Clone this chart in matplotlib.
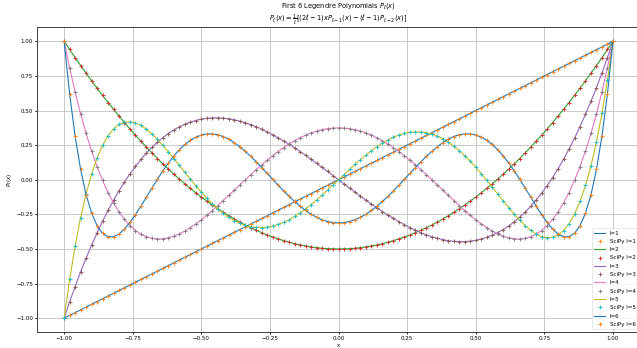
import matplotlib
matplotlib.use("Agg")
import matplotlib.pyplot as plt

# sample points on [-1, 1], step 0.02
x = [-1.00, -0.98, -0.96, -0.94, -0.92, -0.90, -0.88, -0.86, -0.84, -0.82,
     -0.80, -0.78, -0.76, -0.74, -0.72, -0.70, -0.68, -0.66, -0.64, -0.62,
     -0.60, -0.58, -0.56, -0.54, -0.52, -0.50, -0.48, -0.46, -0.44, -0.42,
     -0.40, -0.38, -0.36, -0.34, -0.32, -0.30, -0.28, -0.26, -0.24, -0.22,
     -0.20, -0.18, -0.16, -0.14, -0.12, -0.10, -0.08, -0.06, -0.04, -0.02,
     0.00, 0.02, 0.04, 0.06, 0.08, 0.10, 0.12, 0.14, 0.16, 0.18,
     0.20, 0.22, 0.24, 0.26, 0.28, 0.30, 0.32, 0.34, 0.36, 0.38,
     0.40, 0.42, 0.44, 0.46, 0.48, 0.50, 0.52, 0.54, 0.56, 0.58,
     0.60, 0.62, 0.64, 0.66, 0.68, 0.70, 0.72, 0.74, 0.76, 0.78,
     0.80, 0.82, 0.84, 0.86, 0.88, 0.90, 0.92, 0.94, 0.96, 0.98, 1.00]

p1 = [-1.00, -0.98, -0.96, -0.94, -0.92, -0.90, -0.88, -0.86, -0.84, -0.82,
      -0.80, -0.78, -0.76, -0.74, -0.72, -0.70, -0.68, -0.66, -0.64, -0.62,
      -0.60, -0.58, -0.56, -0.54, -0.52, -0.50, -0.48, -0.46, -0.44, -0.42,
      -0.40, -0.38, -0.36, -0.34, -0.32, -0.30, -0.28, -0.26, -0.24, -0.22,
      -0.20, -0.18, -0.16, -0.14, -0.12, -0.10, -0.08, -0.06, -0.04, -0.02,
      0.00, 0.02, 0.04, 0.06, 0.08, 0.10, 0.12, 0.14, 0.16, 0.18,
      0.20, 0.22, 0.24, 0.26, 0.28, 0.30, 0.32, 0.34, 0.36, 0.38,
      0.40, 0.42, 0.44, 0.46, 0.48, 0.50, 0.52, 0.54, 0.56, 0.58,
      0.60, 0.62, 0.64, 0.66, 0.68, 0.70, 0.72, 0.74, 0.76, 0.78,
      0.80, 0.82, 0.84, 0.86, 0.88, 0.90, 0.92, 0.94, 0.96, 0.98, 1.00]

p2 = [1.000, 0.941, 0.882, 0.825, 0.770, 0.715, 0.662, 0.609, 0.558, 0.509,
      0.460, 0.413, 0.366, 0.321, 0.278, 0.235, 0.194, 0.153, 0.114, 0.077,
      0.040, 0.005, -0.030, -0.063, -0.094, -0.125, -0.154, -0.183, -0.210, -0.235,
      -0.260, -0.283, -0.306, -0.327, -0.346, -0.365, -0.382, -0.399, -0.414, -0.427,
      -0.440, -0.451, -0.462, -0.471, -0.478, -0.485, -0.490, -0.495, -0.498, -0.499,
      -0.500, -0.499, -0.498, -0.495, -0.490, -0.485, -0.478, -0.471, -0.462, -0.451,
      -0.440, -0.427, -0.414, -0.399, -0.382, -0.365, -0.346, -0.327, -0.306, -0.283,
      -0.260, -0.235, -0.210, -0.183, -0.154, -0.125, -0.094, -0.063, -0.030, 0.005,
      0.040, 0.077, 0.114, 0.153, 0.194, 0.235, 0.278, 0.321, 0.366, 0.413,
      0.460, 0.509, 0.558, 0.609, 0.662, 0.715, 0.770, 0.825, 0.882, 0.941, 1.000]

p3 = [-1.000, -0.883, -0.772, -0.666, -0.567, -0.473, -0.384, -0.300, -0.222, -0.148,
      -0.080, -0.016, 0.043, 0.097, 0.147, 0.193, 0.234, 0.271, 0.305, 0.334,
      0.360, 0.382, 0.401, 0.416, 0.428, 0.438, 0.444, 0.447, 0.447, 0.445,
      0.440, 0.433, 0.423, 0.412, 0.398, 0.383, 0.365, 0.346, 0.325, 0.303,
      0.280, 0.255, 0.230, 0.203, 0.176, 0.148, 0.119, 0.089, 0.060, 0.030,
      0.000, -0.030, -0.060, -0.089, -0.119, -0.148, -0.176, -0.203, -0.230, -0.255,
      -0.280, -0.303, -0.325, -0.346, -0.365, -0.383, -0.398, -0.412, -0.423, -0.433,
      -0.440, -0.445, -0.447, -0.447, -0.444, -0.438, -0.428, -0.416, -0.401, -0.382,
      -0.360, -0.334, -0.305, -0.271, -0.234, -0.193, -0.147, -0.097, -0.043, 0.016,
      0.080, 0.148, 0.222, 0.300, 0.384, 0.473, 0.567, 0.666, 0.772, 0.883, 1.000]

p4 = [1.000, 0.809, 0.635, 0.477, 0.335, 0.208, 0.095, -0.005, -0.093, -0.168,
      -0.233, -0.287, -0.331, -0.367, -0.393, -0.412, -0.424, -0.428, -0.427, -0.420,
      -0.408, -0.391, -0.371, -0.346, -0.319, -0.289, -0.257, -0.223, -0.187, -0.150,
      -0.113, -0.075, -0.038, 0.000, 0.037, 0.073, 0.108, 0.141, 0.174, 0.204,
      0.232, 0.258, 0.282, 0.303, 0.322, 0.338, 0.351, 0.362, 0.369, 0.373,
      0.375, 0.373, 0.369, 0.362, 0.351, 0.338, 0.322, 0.303, 0.282, 0.258,
      0.232, 0.204, 0.174, 0.141, 0.108, 0.073, 0.037, 0.000, -0.038, -0.075,
      -0.113, -0.150, -0.187, -0.223, -0.257, -0.289, -0.319, -0.346, -0.371, -0.391,
      -0.408, -0.420, -0.427, -0.428, -0.424, -0.412, -0.393, -0.367, -0.331, -0.287,
      -0.233, -0.168, -0.093, -0.005, 0.095, 0.208, 0.335, 0.477, 0.635, 0.809, 1.000]

p5 = [-1.000, -0.720, -0.480, -0.274, -0.102, 0.041, 0.157, 0.248, 0.318, 0.367,
      0.400, 0.416, 0.419, 0.411, 0.392, 0.365, 0.331, 0.292, 0.248, 0.201,
      0.153, 0.103, 0.053, 0.004, -0.044, -0.090, -0.133, -0.173, -0.210, -0.242,
      -0.271, -0.295, -0.314, -0.329, -0.340, -0.345, -0.346, -0.343, -0.335, -0.323,
      -0.308, -0.288, -0.265, -0.239, -0.210, -0.179, -0.146, -0.111, -0.074, -0.037,
      0.000, 0.037, 0.074, 0.111, 0.146, 0.179, 0.210, 0.239, 0.265, 0.288,
      0.308, 0.323, 0.335, 0.343, 0.346, 0.345, 0.340, 0.329, 0.314, 0.295,
      0.271, 0.242, 0.210, 0.173, 0.133, 0.090, 0.044, -0.004, -0.053, -0.103,
      -0.153, -0.201, -0.248, -0.292, -0.331, -0.365, -0.392, -0.411, -0.419, -0.416,
      -0.400, -0.367, -0.318, -0.248, -0.157, -0.041, 0.102, 0.274, 0.480, 0.720, 1.000]

p6 = [1.000, 0.620, 0.315, 0.075, -0.108, -0.241, -0.332, -0.387, -0.412, -0.412,
      -0.392, -0.356, -0.308, -0.252, -0.190, -0.125, -0.060, 0.004, 0.065, 0.121,
      0.172, 0.217, 0.255, 0.285, 0.308, 0.323, 0.331, 0.331, 0.325, 0.312,
      0.293, 0.268, 0.239, 0.205, 0.169, 0.129, 0.088, 0.046, 0.003, -0.039,
      -0.081, -0.120, -0.157, -0.191, -0.222, -0.249, -0.271, -0.289, -0.302, -0.310,
      -0.312, -0.310, -0.302, -0.289, -0.271, -0.249, -0.222, -0.191, -0.157, -0.120,
      -0.081, -0.039, 0.003, 0.046, 0.088, 0.129, 0.169, 0.205, 0.239, 0.268,
      0.293, 0.312, 0.325, 0.331, 0.331, 0.323, 0.308, 0.285, 0.255, 0.217,
      0.172, 0.121, 0.065, 0.004, -0.060, -0.125, -0.190, -0.252, -0.308, -0.356,
      -0.392, -0.412, -0.412, -0.387, -0.332, -0.241, -0.108, 0.075, 0.315, 0.620, 1.000]

degrees = [1, 2, 3, 4, 5, 6]
curves = [p1, p2, p3, p4, p5, p6]

dpi = 39.8125
fig = plt.figure(figsize=(637 / dpi, 348 / dpi), dpi=dpi)
ax = fig.add_axes([0.0576, 0.046, 0.9477, 0.875])

# line then scipy markers, both from the same colour cycle
for l, y in zip(degrees, curves):
    ax.plot(x, y, linewidth=2, label="l=%d" % l)
    ax.plot(x, y, "+", markersize=6, markeredgewidth=1.6, label="SciPy l=%d" % l)

ax.set_xticks([-1.0, -0.75, -0.5, -0.25, 0.0, 0.25, 0.5, 0.75, 1.0])
ax.set_yticks([-1.0, -0.75, -0.5, -0.25, 0.0, 0.25, 0.5, 0.75, 1.0])
ax.grid(True, linewidth=1.6, color="#c4c4c4")
for s in ax.spines.values():
    s.set_linewidth(1.8)
    s.set_color("#444444")
ax.tick_params(width=1.6)
ax.set_xlabel("x")
ax.set_ylabel(r"$P_\ell(x)$")
ax.set_title("First 6 Legendre Polynomials $P_\\ell(x)$\n"
             r"$P_\ell(x) = \frac{1}{\ell}[(2\ell-1)xP_{\ell-1}(x) - (\ell-1)P_{\ell-2}(x)]$",
             pad=8)
ax.legend(loc="lower right", labelspacing=0.6)

fig.savefig("out.png", dpi=dpi)
plt.close(fig)
